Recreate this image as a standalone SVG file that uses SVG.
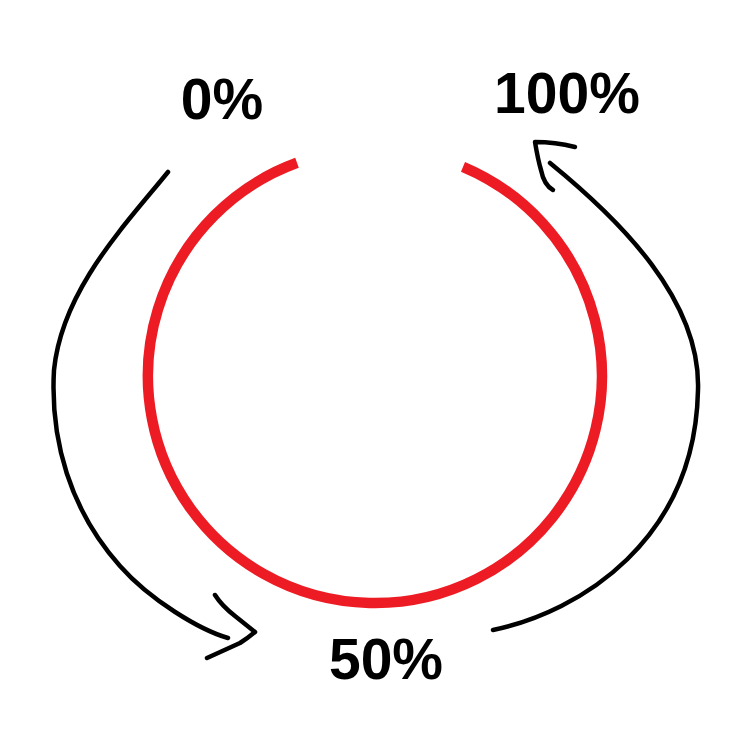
<svg xmlns="http://www.w3.org/2000/svg" width="756" height="736" viewBox="0 0 756 736">
  <style>
    .label { font-family: "Liberation Sans", Arial, sans-serif; font-weight: bold; font-size: 57px; fill: #000; text-anchor: middle; }
    .ring { fill: none; stroke: #ED1C24; stroke-width: 10.5; stroke-linecap: butt; }
    .conn { fill: none; stroke: #000; stroke-width: 4.5; stroke-linecap: round; stroke-linejoin: round; }
  </style>
  <rect width="756" height="736" fill="#fff"/>
  <g id="ring">
    <path class="ring" d="M297,162.8 A227,227 0 1 0 463,166.8"/>
  </g>
  <g id="label-0">
    <text class="label" x="222" y="119">0%</text>
  </g>
  <g id="label-50">
    <text class="label" x="386" y="679">50%</text>
  </g>
  <g id="label-100">
    <text class="label" x="567" y="113">100%</text>
  </g>
  <g id="connectors">
    <path class="conn" d="M168,172 C125,225 62,290 54,370 C50,440 70,510 120,566 C150,600 200,630 228,638"/>
    <path class="conn" d="M215,595 Q222,606 235,616 L255,632 Q248,638 240,643 L207,658"/>
    <path class="conn" d="M493,630 C580,612 695,540 698,390 C701,300 620,220 550,163"/>
    <path class="conn" d="M575,147 Q555,142 535,142 Q538,160 541,170 Q544,185 553,190"/>
  </g>
</svg>
